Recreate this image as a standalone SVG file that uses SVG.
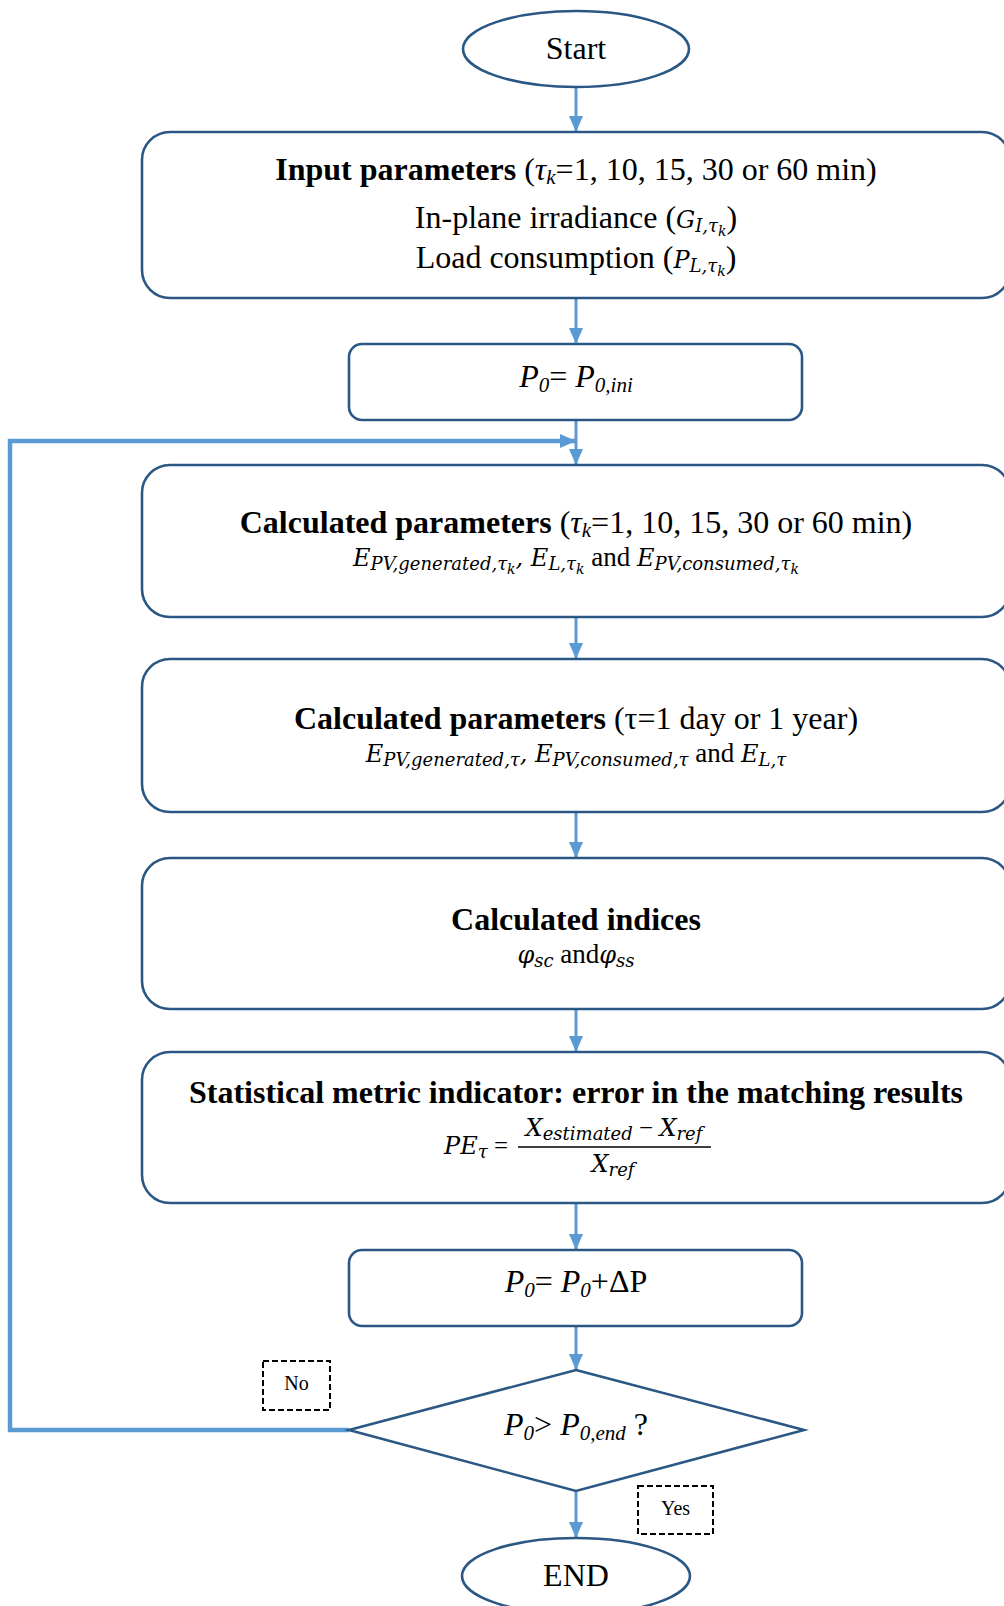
<svg xmlns="http://www.w3.org/2000/svg" width="1004" height="1606" viewBox="0 0 1004 1606">
<style>
.node{fill:#fff;stroke:#2a5783;stroke-width:2.6}
.conn{fill:none;stroke:#5b9bd5;stroke-width:3}
.loop{fill:none;stroke:#5b9bd5;stroke-width:4.5}
.lbl{fill:#fff;stroke:#000;stroke-width:2;stroke-dasharray:6 3}
text{font-family:"Liberation Serif","Times New Roman",serif;fill:#000}
.t{font-size:32px}
.b{font-weight:bold}
.i{font-style:italic}
.m{font-family:"DejaVu Serif",serif;font-size:24px;font-style:italic}
.s{font-family:"DejaVu Serif",serif;font-size:18px;font-style:italic}
.ss{font-family:"DejaVu Serif",serif;font-size:14px;font-style:italic}
.a{font-size:27px}
.r{font-style:normal}
</style>
<defs>
<marker id="arr" markerUnits="userSpaceOnUse" viewBox="0 0 16 14" markerWidth="16" markerHeight="14" refX="16" refY="7" orient="auto">
<path d="M0,0 L16,7 L0,14 z" fill="#5b9bd5"/>
</marker>
</defs>
<g id="connectors">
<line class="conn" x1="576" y1="87" x2="576" y2="132" marker-end="url(#arr)"/>
<line class="conn" x1="576" y1="298" x2="576" y2="344" marker-end="url(#arr)"/>
<line class="conn" x1="576" y1="420" x2="576" y2="465" marker-end="url(#arr)"/>
<path class="loop" d="M349,1430 H10 V441 H576" marker-end="url(#arr)"/>
<line class="conn" x1="576" y1="617" x2="576" y2="659" marker-end="url(#arr)"/>
<line class="conn" x1="576" y1="812" x2="576" y2="858" marker-end="url(#arr)"/>
<line class="conn" x1="576" y1="1009" x2="576" y2="1052" marker-end="url(#arr)"/>
<line class="conn" x1="576" y1="1203" x2="576" y2="1250" marker-end="url(#arr)"/>
<line class="conn" x1="576" y1="1326" x2="576" y2="1370" marker-end="url(#arr)"/>
<line class="conn" x1="576" y1="1491" x2="576" y2="1538" marker-end="url(#arr)"/>
</g>
<g id="start">
<ellipse class="node" cx="576" cy="49" rx="113" ry="38"/>
<text class="t" x="576" y="59" text-anchor="middle">Start</text>
</g>
<g id="input">
<rect class="node" x="142" y="132" width="868" height="166" rx="28"/>
<text class="t" x="576" y="180" text-anchor="middle"><tspan class="b">Input parameters</tspan> (<tspan class="i">τ</tspan><tspan class="i" font-size="21" dy="4">k</tspan><tspan dy="-4">=1, 10, 15, 30 or 60 min)</tspan></text>
<text class="t" x="576" y="228" text-anchor="middle">In-plane irradiance (<tspan class="m">G</tspan><tspan class="s" dy="4">I,τ</tspan><tspan class="ss" dy="4">k</tspan><tspan dy="-8">)</tspan></text>
<text class="t" x="576" y="268" text-anchor="middle">Load consumption (<tspan class="m">P</tspan><tspan class="s" dy="4">L,τ</tspan><tspan class="ss" dy="4">k</tspan><tspan dy="-8">)</tspan></text>
</g>
<g id="p0ini">
<rect class="node" x="349" y="344" width="453" height="76" rx="13"/>
<text class="t i" x="576" y="387" text-anchor="middle">P<tspan font-size="21" dy="5">0</tspan><tspan class="r" dy="-5">= </tspan>P<tspan font-size="21" dy="5">0,ini</tspan></text>
</g>
<g id="calc1">
<rect class="node" x="142" y="465" width="868" height="152" rx="28"/>
<text class="t" x="576" y="533" text-anchor="middle"><tspan class="b">Calculated parameters</tspan> (<tspan class="i">τ</tspan><tspan class="i" font-size="21" dy="4">k</tspan><tspan dy="-4">=1, 10, 15, 30 or 60 min)</tspan></text>
<text x="576" y="566" text-anchor="middle" font-size="24"><tspan class="m">E</tspan><tspan class="s" dy="4">PV,generated,τ</tspan><tspan class="ss" dy="4">k</tspan><tspan class="m" dy="-8">, E</tspan><tspan class="s" dy="4">L,τ</tspan><tspan class="ss" dy="4">k</tspan><tspan class="a" dy="-8"> and  </tspan><tspan class="m">E</tspan><tspan class="s" dy="4">PV,consumed,τ</tspan><tspan class="ss" dy="4">k</tspan></text>
</g>
<g id="calc2">
<rect class="node" x="142" y="659" width="868" height="153" rx="28"/>
<text class="t" x="576" y="729" text-anchor="middle"><tspan class="b">Calculated parameters</tspan> (τ=1 day or 1 year)</text>
<text x="576" y="762" text-anchor="middle" font-size="24"><tspan class="m">E</tspan><tspan class="s" dy="4">PV,generated,τ</tspan><tspan class="m" dy="-4">, E</tspan><tspan class="s" dy="4">PV,consumed,τ</tspan><tspan class="a" dy="-4"> and </tspan><tspan class="m">E</tspan><tspan class="s" dy="4">L,τ</tspan></text>
</g>
<g id="indices">
<rect class="node" x="142" y="858" width="868" height="151" rx="28"/>
<text class="t b" x="576" y="930" text-anchor="middle">Calculated indices</text>
<text x="576" y="963" text-anchor="middle" font-size="24"><tspan class="m">φ</tspan><tspan class="s" dy="4">sc</tspan><tspan class="a" dy="-4"> and</tspan><tspan class="m">φ</tspan><tspan class="s" dy="4">ss</tspan></text>
</g>
<g id="metric">
<rect class="node" x="142" y="1052" width="868" height="151" rx="28"/>
<text class="t b" x="576" y="1103" text-anchor="middle">Statistical metric indicator: error in the matching results</text>
<text x="476" y="1154" text-anchor="middle" font-size="25"><tspan class="m">PE</tspan><tspan class="s" dy="4">τ</tspan><tspan dy="-4"> =</tspan></text>
<text x="614" y="1136" text-anchor="middle" font-size="25"><tspan class="m">X</tspan><tspan class="s" dy="4">estimated</tspan><tspan dy="-4"> − </tspan><tspan class="m">X</tspan><tspan class="s" dy="4">ref</tspan></text>
<line x1="518" y1="1147" x2="711" y2="1147" stroke="#000" stroke-width="1.5"/>
<text x="613" y="1172" text-anchor="middle" font-size="24"><tspan class="m">X</tspan><tspan class="s" dy="4">ref</tspan></text>
</g>
<g id="p0inc">
<rect class="node" x="349" y="1250" width="453" height="76" rx="13"/>
<text class="t" x="576" y="1292" text-anchor="middle"><tspan class="i">P</tspan><tspan class="i" font-size="21" dy="5">0</tspan><tspan dy="-5">= </tspan><tspan class="i">P</tspan><tspan class="i" font-size="21" dy="5">0</tspan><tspan dy="-5">+ΔP</tspan></text>
</g>
<g id="decision">
<polygon class="node" points="576,1370 804,1430 576,1491 349,1430"/>
<text class="t" x="576" y="1435" text-anchor="middle"><tspan class="i">P</tspan><tspan class="i" font-size="21" dy="5">0</tspan><tspan dy="-5">&gt; </tspan><tspan class="i">P</tspan><tspan class="i" font-size="21" dy="5">0,end</tspan><tspan dy="-5"> ?</tspan></text>
</g>
<g id="no">
<rect class="lbl" x="263" y="1361" width="67" height="49"/>
<text x="296.5" y="1390" text-anchor="middle" font-size="20">No</text>
</g>
<g id="yes">
<rect class="lbl" x="638" y="1486" width="75" height="48"/>
<text x="675.5" y="1515" text-anchor="middle" font-size="20">Yes</text>
</g>
<g id="end">
<ellipse class="node" cx="576" cy="1576" rx="114" ry="38"/>
<text class="t" x="576" y="1586" text-anchor="middle">END</text>
</g>
</svg>
